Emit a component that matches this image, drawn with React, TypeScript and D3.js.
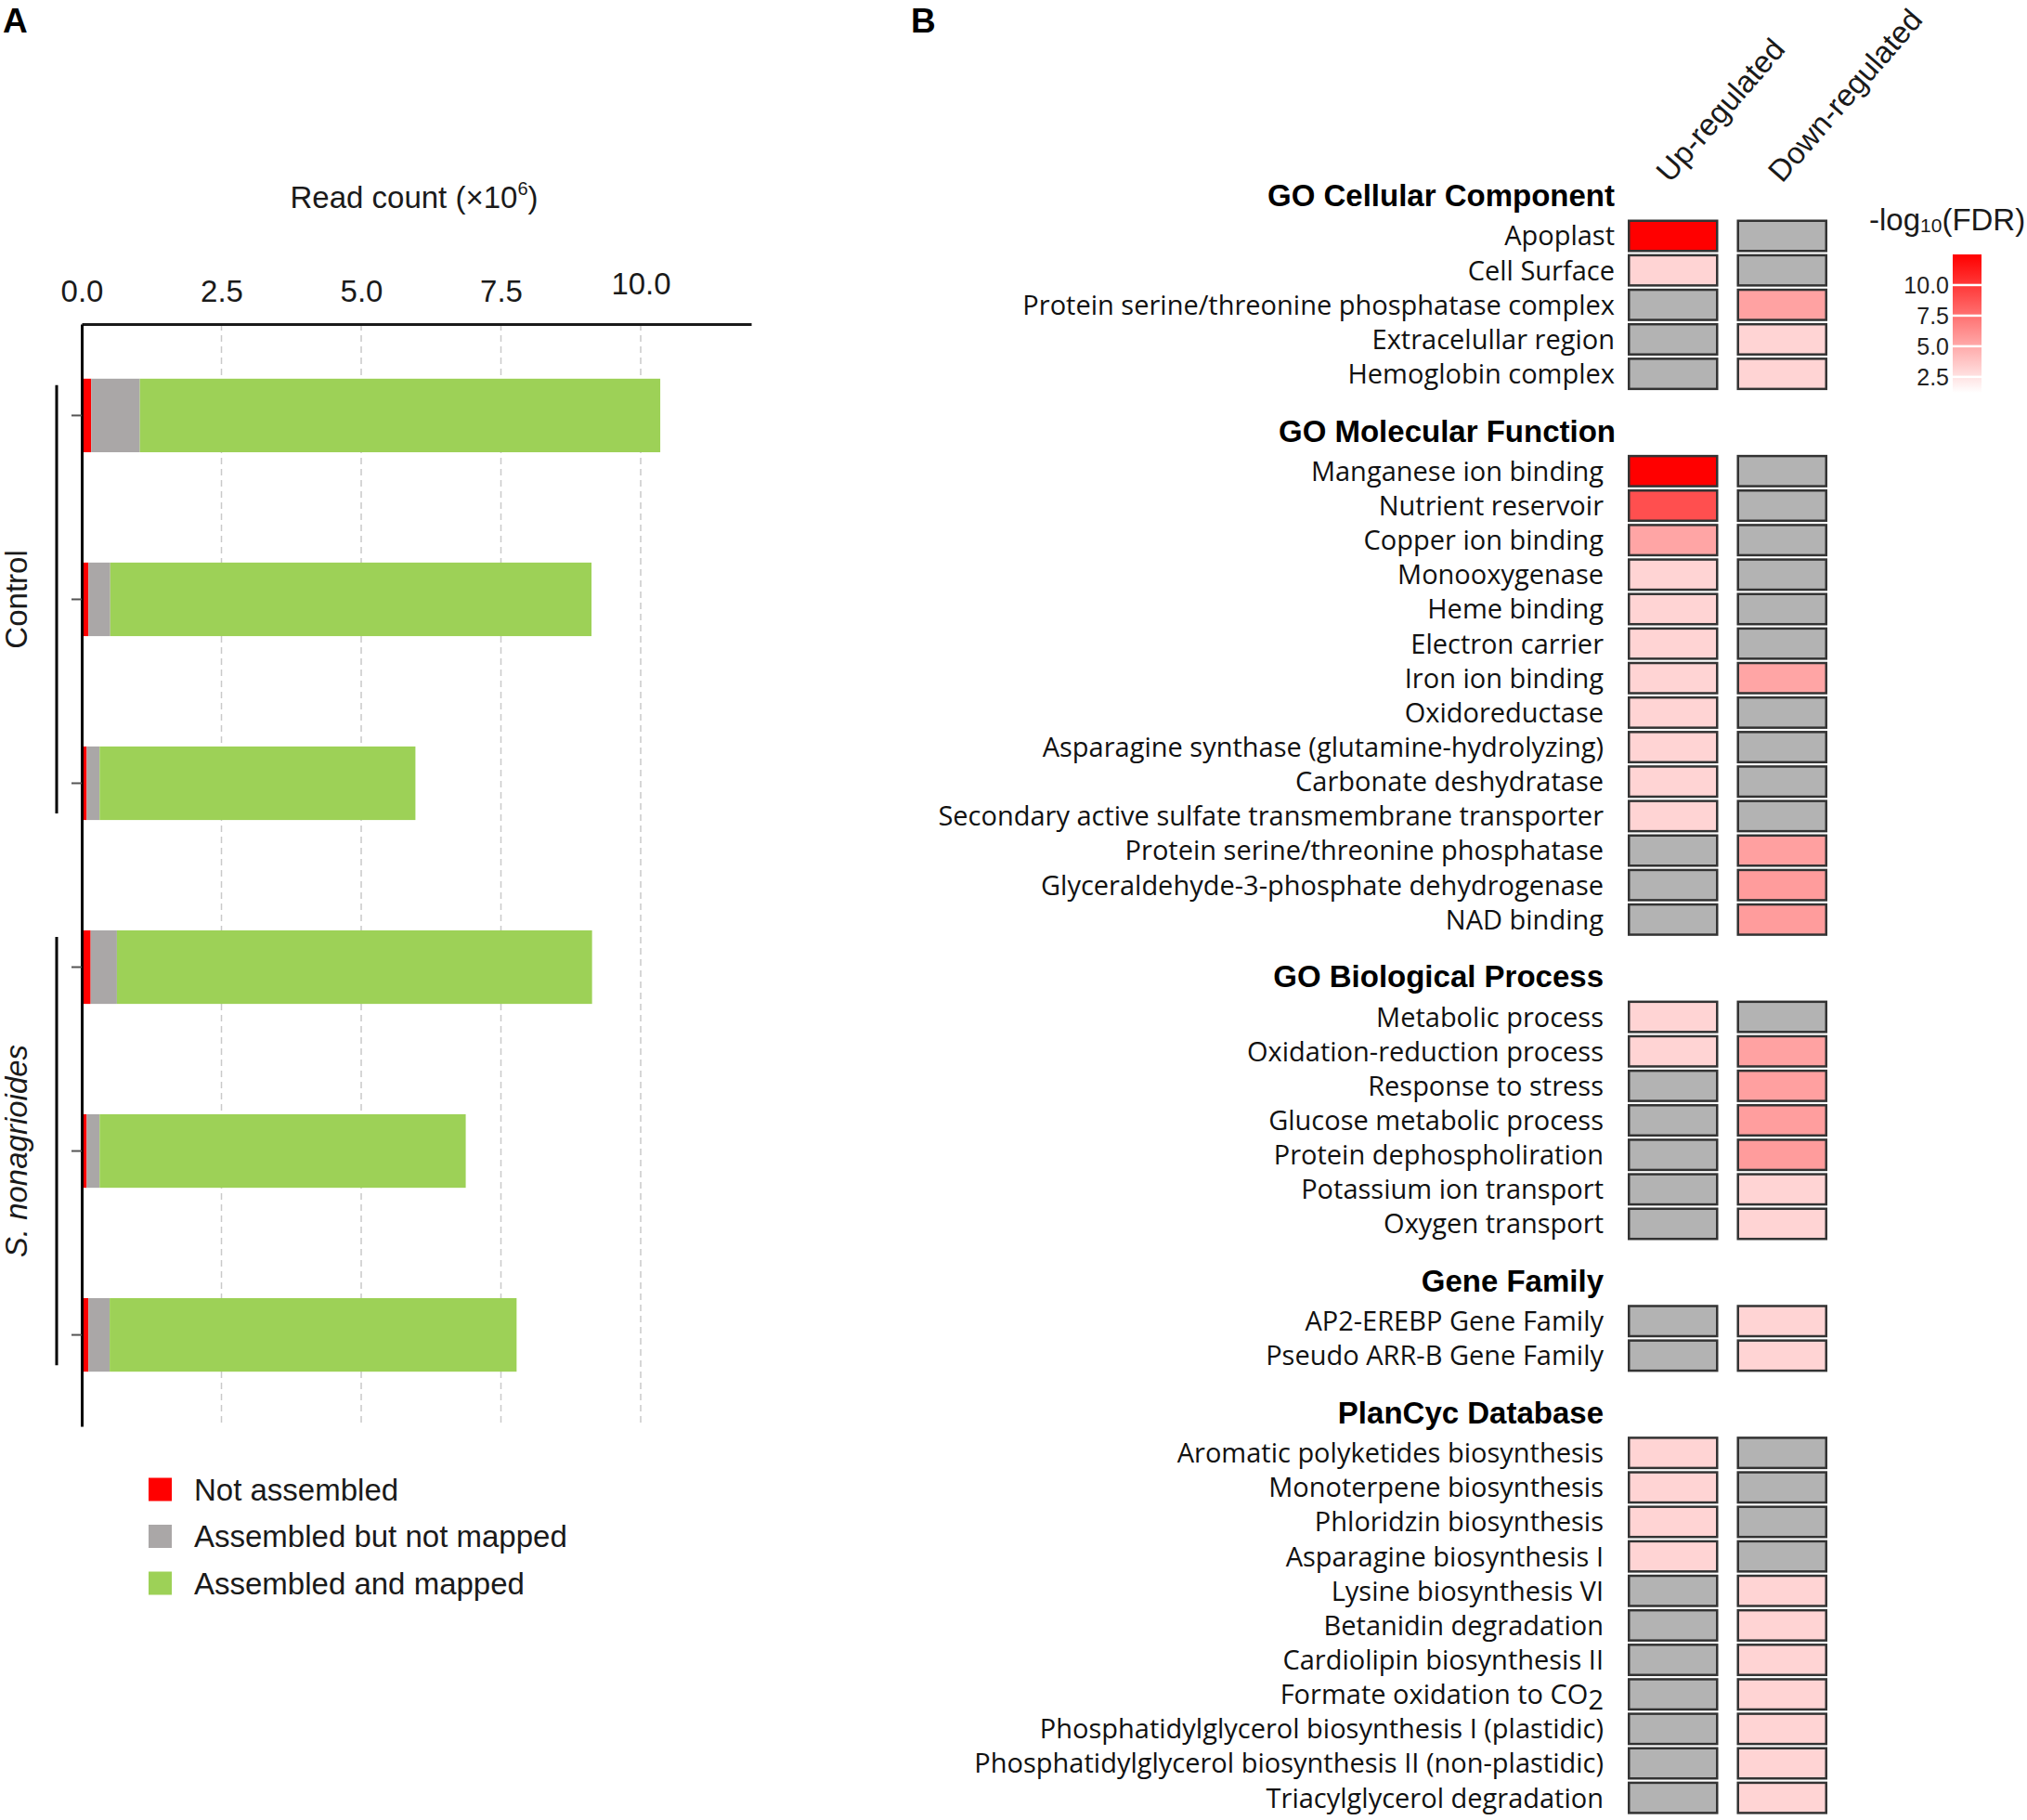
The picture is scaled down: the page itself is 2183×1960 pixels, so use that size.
import { useEffect, useRef } from "react";
import * as d3 from "d3";

// ---- Panel A: read counts (x10^6) ----
const samples = ["C1", "C2", "C3", "S1", "S2", "S3"];
const sampleGroup = [0, 0, 0, 1, 1, 1];
const groupNames = ["Control", "S. nonagrioides"];
const notAssembled = [0.17, 0.12, 0.09, 0.16, 0.09, 0.12];
const assembledNotMapped = [0.87, 0.39, 0.23, 0.47, 0.23, 0.38];
const assembledMapped = [9.31, 8.61, 5.65, 8.5, 6.55, 7.28];
const seriesNames = ["Not assembled", "Assembled but not mapped", "Assembled and mapped"];
const seriesColors = ["#ff0000", "#aaa7a7", "#9dd157"];
const readTicks = [0, 2.5, 5, 7.5, 10];

// ---- Panel B: enrichment, -log10(FDR); null = not significant ----
const columns = ["Up-regulated", "Down-regulated"];
const sectionTitles = [
  "GO Cellular Component",
  "GO Molecular Function",
  "GO Biological Process",
  "Gene Family",
  "PlanCyc Database",
];

const ccTerms = [
  "Apoplast",
  "Cell Surface",
  "Protein serine/threonine phosphatase complex",
  "Extracelullar region",
  "Hemoglobin complex",
];
const ccUp = [12.5, 3.1, null, null, null];
const ccDown = [null, null, 5.3, 3.1, 3.1];

const mfTerms = [
  "Manganese ion binding",
  "Nutrient reservoir",
  "Copper ion binding",
  "Monooxygenase",
  "Heme binding",
  "Electron carrier",
  "Iron ion binding",
  "Oxidoreductase",
  "Asparagine synthase (glutamine-hydrolyzing)",
  "Carbonate deshydratase",
  "Secondary active sulfate transmembrane transporter",
  "Protein serine/threonine phosphatase",
  "Glyceraldehyde-3-phosphate dehydrogenase",
  "NAD binding",
];
const mfUp = [12.5, 9.0, 5.2, 3.1, 3.1, 3.1, 3.1, 3.1, 3.1, 3.1, 3.1, null, null, null];
const mfDown = [null, null, null, null, null, null, 5.2, null, null, null, null, 5.4, 5.6, 5.6];

const bpTerms = [
  "Metabolic process",
  "Oxidation-reduction process",
  "Response to stress",
  "Glucose metabolic process",
  "Protein dephospholiration",
  "Potassium ion transport",
  "Oxygen transport",
];
const bpUp = [3.1, 3.1, null, null, null, null, null];
const bpDown = [null, 5.3, 5.4, 5.5, 5.6, 3.1, 3.1];

const gfTerms = ["AP2-EREBP Gene Family", "Pseudo ARR-B Gene Family"];
const gfUp = [null, null];
const gfDown = [3.1, 3.1];

const pcTerms = [
  "Aromatic polyketides biosynthesis",
  "Monoterpene biosynthesis",
  "Phloridzin biosynthesis",
  "Asparagine biosynthesis I",
  "Lysine biosynthesis VI",
  "Betanidin degradation",
  "Cardiolipin biosynthesis II",
  "Formate oxidation to CO2",
  "Phosphatidylglycerol biosynthesis I (plastidic)",
  "Phosphatidylglycerol biosynthesis II (non-plastidic)",
  "Triacylglycerol degradation",
];
const pcUp = [3.1, 3.1, 3.1, 3.1, null, null, null, null, null, null, null];
const pcDown = [null, null, null, null, 3.1, 3.1, 3.1, 3.1, 3.1, 3.1, 3.1];

const fdrTicks = [2.5, 5, 7.5, 10];

const W = 2183;
const H = 1960;
const SANS = "'Liberation Sans', Arial, sans-serif";
const LABEL_FONT = "'Open Sans', 'Noto Sans', sans-serif";

type Sel = d3.Selection<SVGSVGElement, unknown, null, undefined>;

function drawReads(svg: Sel) {
  const x = d3.scaleLinear().domain([0, 10]).range([88, 690]);
  const xMax = x.invert(809);
  const y = d3
    .scaleBand()
    .domain(samples)
    .range([349, 1536])
    .paddingInner(0.6)
    .paddingOuter(0.297);

  const rows = samples.map((s, i) => ({
    sample: s,
    a: notAssembled[i],
    b: assembledNotMapped[i],
    c: assembledMapped[i],
  }));
  const stack = d3.stack<(typeof rows)[number]>().keys(["a", "b", "c"])(rows);

  const g = svg.append("g");

  // dashed grid
  g.selectAll(".grid")
    .data(readTicks.filter((t) => t > 0))
    .enter()
    .append("line")
    .attr("x1", (d) => x(d))
    .attr("x2", (d) => x(d))
    .attr("y1", 349)
    .attr("y2", 1536)
    .attr("stroke", "#c9c9c9")
    .attr("stroke-width", 1.5)
    .attr("stroke-dasharray", "7,5");

  // bars
  g.selectAll(".layer")
    .data(stack)
    .enter()
    .append("g")
    .attr("fill", (_, i) => seriesColors[i])
    .selectAll("rect")
    .data((d) => d)
    .enter()
    .append("rect")
    .attr("x", (d) => x(d[0]))
    .attr("y", (d) => y(d.data.sample)!)
    .attr("width", (d) => x(d[1]) - x(d[0]))
    .attr("height", y.bandwidth());

  // top axis (extends past the last tick)
  const xAxisScale = x.copy().domain([0, xMax]).range([88, 809]);
  const top = g
    .append("g")
    .attr("transform", "translate(0,349)")
    .call(
      d3
        .axisTop(xAxisScale)
        .tickValues(readTicks)
        .tickFormat(d3.format(".1f"))
        .tickSize(0)
        .tickSizeOuter(0)
        .tickPadding(24),
    );
  top.select(".domain").attr("stroke", "#1a1a1a").attr("stroke-width", 3);
  top
    .selectAll("text")
    .attr("font-family", SANS)
    .attr("font-size", 33)
    .attr("fill", "#1a1a1a")
    .attr("dy", (d) => ((d as number) === 10 ? "-0.25em" : "0em"));

  // left axis
  const left = g
    .append("g")
    .attr("transform", "translate(88,0)")
    .call(d3.axisLeft(y).tickFormat(() => "").tickSize(11).tickSizeOuter(0));
  left.select(".domain").attr("stroke", "#000").attr("stroke-width", 3);
  left.selectAll(".tick line").attr("stroke", "#555").attr("stroke-width", 2);

  // title
  const title = g
    .append("text")
    .attr("x", 446)
    .attr("y", 224)
    .attr("text-anchor", "middle")
    .attr("font-family", SANS)
    .attr("font-size", 33)
    .attr("fill", "#1a1a1a");
  title.append("tspan").text("Read count (×10");
  title.append("tspan").attr("font-size", 20).attr("dy", -14).text("6");
  title.append("tspan").attr("dy", 14).text(")");

  // group brackets and labels
  groupNames.forEach((name, gi) => {
    const idx = samples.filter((_, i) => sampleGroup[i] === gi);
    const y0 = y(idx[0])!;
    const y1 = y(idx[idx.length - 1])! + y.bandwidth();
    g.append("line")
      .attr("x1", 61)
      .attr("x2", 61)
      .attr("y1", y0 + 7)
      .attr("y2", y1 - 7)
      .attr("stroke", "#000")
      .attr("stroke-width", 3);
    const cy = (y0 + y1) / 2;
    g.append("text")
      .attr("transform", `translate(29,${cy}) rotate(-90)`)
      .attr("text-anchor", "middle")
      .attr("font-family", SANS)
      .attr("font-size", 33)
      .attr("font-style", gi === 1 ? "italic" : "normal")
      .attr("fill", "#1a1a1a")
      .text(name);
  });

  // legend
  const ly = d3.scalePoint().domain(seriesNames).range([1604, 1705]);
  const leg = g
    .selectAll(".leg")
    .data(seriesNames)
    .enter()
    .append("g")
    .attr("transform", (d) => `translate(0,${ly(d)})`);
  leg
    .append("rect")
    .attr("x", 160)
    .attr("y", -12.5)
    .attr("width", 25)
    .attr("height", 25)
    .attr("fill", (_, i) => seriesColors[i]);
  leg
    .append("text")
    .attr("x", 209)
    .attr("dy", "0.35em")
    .attr("font-family", SANS)
    .attr("font-size", 33)
    .attr("fill", "#1a1a1a")
    .text((d) => d);
}

function drawEnrichment(svg: Sel) {
  const sections = [
    { terms: ccTerms, up: ccUp, down: ccDown },
    { terms: mfTerms, up: mfUp, down: mfDown },
    { terms: bpTerms, up: bpUp, down: bpDown },
    { terms: gfTerms, up: gfUp, down: gfDown },
    { terms: pcTerms, up: pcUp, down: pcDown },
  ].map((s, i) => ({ ...s, title: sectionTitles[i] }));

  // row slots: consecutive rows 1 slot apart, sections separated by a gap
  const gap = 2.82;
  const starts: number[] = [];
  let slot = 0;
  sections.forEach((s) => {
    starts.push(slot);
    slot += s.terms.length - 1 + gap;
  });
  const slotY = d3.scaleLinear().domain([0, 1]).range([254, 254 + 37.15]);
  const labelRight = [1739, 1727, 1727, 1727, 1727];
  const titleRight = [1739, 1740, 1727, 1727, 1727];

  const col = d3.scaleBand().domain(columns).range([1753, 1968]).paddingInner(0.17);
  const color = d3
    .scaleLinear<string>()
    .domain([1.2, 12.5])
    .range(["#ffffff", "#ff0000"])
    .clamp(true);

  const g = svg.append("g");
  const cellH = 32.5;

  sections.forEach((s, si) => {
    const rx = labelRight[si];
    g.append("text")
      .attr("x", titleRight[si])
      .attr("y", slotY(starts[si] - 0.85))
      .attr("text-anchor", "end")
      .attr("font-family", SANS)
      .attr("font-weight", "bold")
      .attr("font-size", 33)
      .attr("fill", "#000")
      .text(s.title);

    s.terms.forEach((term, ti) => {
      const cy = slotY(starts[si] + ti);
      const t = g
        .append("text")
        .attr("x", rx)
        .attr("y", cy)
        .attr("dy", "0.36em")
        .attr("text-anchor", "end")
        .attr("font-family", LABEL_FONT)
        .attr("font-size", 29)
        .attr("fill", "#111");
      if (term.endsWith("CO2")) {
        t.append("tspan").text(term.slice(0, -1));
        t.append("tspan").attr("dy", 6).text("2");
      } else {
        t.text(term);
      }

      const vals = [s.up[ti], s.down[ti]];
      columns.forEach((c, ci) => {
        const v = vals[ci];
        g.append("rect")
          .attr("x", col(c)! + 1.25)
          .attr("y", cy - cellH / 2)
          .attr("width", col.bandwidth() - 2.5)
          .attr("height", cellH)
          .attr("fill", v == null ? "#b3b3b3" : color(v))
          .attr("stroke", "#333")
          .attr("stroke-width", 2.5);
      });
    });
  });

  // column headers
  columns.forEach((c, ci) => {
    const x0 = col(c)! + col.bandwidth() / 2 - (ci === 0 ? 3 : 0);
    g.append("text")
      .attr("transform", `translate(${x0},198) rotate(-49)`)
      .attr("font-family", SANS)
      .attr("font-size", 33)
      .attr("fill", "#1a1a1a")
      .text(c);
  });

  // colour bar
  const fy = d3.scaleLinear().domain([1.2, 12.5]).range([423, 274]);
  const grad = svg
    .append("defs")
    .append("linearGradient")
    .attr("id", "fdrGrad")
    .attr("x1", 0)
    .attr("x2", 0)
    .attr("y1", 1)
    .attr("y2", 0);
  d3.range(0, 1.01, 0.1).forEach((t) => {
    grad
      .append("stop")
      .attr("offset", t)
      .attr("stop-color", color(1.2 + t * (12.5 - 1.2)));
  });
  g.append("rect")
    .attr("x", 2103)
    .attr("y", fy(12.5))
    .attr("width", 31)
    .attr("height", fy(1.2) - fy(12.5))
    .attr("fill", "url(#fdrGrad)");
  g.selectAll(".fdrTick")
    .data(fdrTicks)
    .enter()
    .append("line")
    .attr("x1", 2103)
    .attr("x2", 2134)
    .attr("y1", (d) => fy(d))
    .attr("y2", (d) => fy(d))
    .attr("stroke", "#fff")
    .attr("stroke-width", 2.5);
  g.selectAll(".fdrLabel")
    .data(fdrTicks)
    .enter()
    .append("text")
    .attr("x", 2099)
    .attr("y", (d) => fy(d))
    .attr("dy", "0.36em")
    .attr("text-anchor", "end")
    .attr("font-family", SANS)
    .attr("font-size", 25)
    .attr("fill", "#222")
    .text((d) => d3.format(".1f")(d));

  const lt = g
    .append("text")
    .attr("x", 2013)
    .attr("y", 248)
    .attr("font-family", SANS)
    .attr("font-size", 33)
    .attr("fill", "#1a1a1a");
  lt.append("tspan").text("-log");
  lt.append("tspan").attr("font-size", 21).attr("dy", 2).text("10");
  lt.append("tspan").attr("dy", -2).text("(FDR)");
}

export default function App() {
  const ref = useRef<SVGSVGElement>(null);

  useEffect(() => {
    if (!ref.current) return;
    const svg = d3.select(ref.current);
    svg.selectAll("*").remove();

    drawReads(svg);
    drawEnrichment(svg);

    // panel letters
    svg
      .selectAll(".panel")
      .data(["A", "B"])
      .enter()
      .append("text")
      .attr("x", (_, i) => (i === 0 ? 3 : 981))
      .attr("y", 35)
      .attr("font-family", SANS)
      .attr("font-weight", "bold")
      .attr("font-size", 37)
      .attr("fill", "#000")
      .text((d) => d);
  }, []);

  return (
    <svg
      ref={ref}
      width={W}
      height={H}
      style={{ position: "absolute", left: 0, top: 0, background: "#fff" }}
    />
  );
}
